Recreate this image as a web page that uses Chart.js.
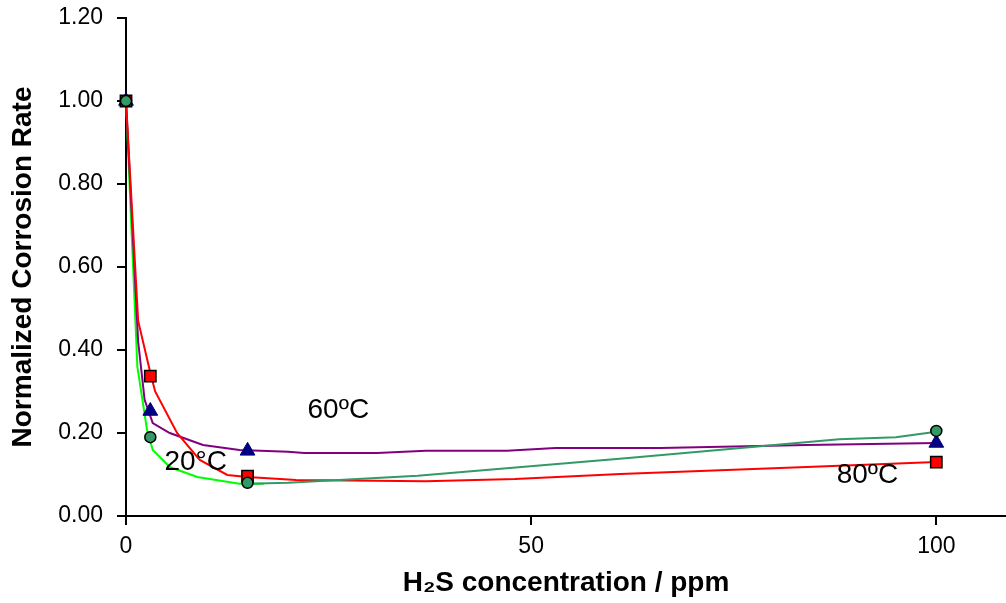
<!DOCTYPE html>
<html>
<head>
<meta charset="utf-8">
<script src="https://cdn.jsdelivr.net/npm/chart.js@4"></script>
<style>
  html, body { margin: 0; padding: 0; background: #fff; }
  canvas { display: block; }
</style>
</head>
<body>
<canvas id="chart" width="1006" height="603"></canvas>
<script>
// measured points (H2S ppm vs normalized rate)
const h2sPpm = [0, 3, 15, 100];
const rate80 = [1.0, 0.337, 0.096, 0.13];
const rate60 = [1.0, 0.253, 0.157, 0.176];
const rate20 = [1.0, 0.19, 0.08, 0.205];

// fitted curves
const fit80X = [0, 1.5, 3.0, 3.6, 6.3, 9.1, 12.5, 15, 21, 37, 48, 61, 84, 100];
const fit80Y = [1.0, 0.47, 0.345, 0.30, 0.20, 0.135, 0.099, 0.094, 0.087, 0.084, 0.089, 0.101, 0.118, 0.13];
const fit60X = [0, 1.5, 2.3, 3.3, 5.4, 9.5, 14, 20, 22, 31, 37, 47, 53, 66, 84, 100];
const fit60Y = [1.0, 0.42, 0.28, 0.224, 0.20, 0.171, 0.159, 0.155, 0.152, 0.152, 0.157, 0.157, 0.164, 0.164, 0.171, 0.176];
const fit20aX = [0, 1.4, 2.6, 3.3, 5.4, 8.8, 14, 17];
const fit20aY = [1.0, 0.36, 0.207, 0.159, 0.118, 0.094, 0.078, 0.078];
const fit20bX = [15, 20, 36, 62, 88, 95, 100];
const fit20bY = [0.078, 0.08, 0.097, 0.14, 0.185, 0.19, 0.203];

const xTicks = [0, 50, 100];

// temperature labels: [text, x, y]
const tempLabels = [
  ['60ºC', 26.2, 0.255],
  ['20°C', 8.6, 0.13],
  ['80ºC', 91.5, 0.099]
];

const FONT = '"Liberation Sans", Arial, sans-serif';

function pts(xs, ys) {
  return xs.map((x, i) => ({x: x, y: ys[i]}));
}

function curve(xs, ys, color, order) {
  return {
    data: pts(xs, ys),
    showLine: true,
    borderColor: color,
    borderWidth: 2,
    pointRadius: 0,
    tension: 0,
    clip: false,
    order: order
  };
}

const tempLabelPlugin = {
  id: 'tempLabels',
  afterDatasetsDraw(chart) {
    const ctx = chart.ctx;
    const xs = chart.scales.x;
    const ys = chart.scales.y;
    ctx.save();
    ctx.fillStyle = '#000';
    ctx.font = '28px ' + FONT;
    ctx.textAlign = 'center';
    ctx.textBaseline = 'middle';
    tempLabels.forEach(l => {
      ctx.fillText(l[0], xs.getPixelForValue(l[1]), ys.getPixelForValue(l[2]));
    });
    ctx.restore();
  }
};

new Chart(document.getElementById('chart'), {
  type: 'scatter',
  data: {
    datasets: [
      curve(fit80X, fit80Y, '#ff0000', 10),
      curve(fit60X, fit60Y, '#800080', 11),
      curve(fit20aX, fit20aY, '#00ff00', 12),
      curve(fit20bX, fit20bY, '#339966', 9),
      {
        data: pts(h2sPpm, rate60),
        pointStyle: 'triangle',
        pointRadius: 8.5,
        backgroundColor: '#000080',
        borderColor: '#000080',
        borderWidth: 1,
        clip: false,
        order: 3
      },
      {
        data: pts(h2sPpm, rate80),
        pointStyle: 'rect',
        pointRadius: 8,
        backgroundColor: '#ff0000',
        borderColor: '#000',
        borderWidth: 1.5,
        clip: false,
        order: 2
      },
      {
        data: pts(h2sPpm, rate20),
        pointStyle: 'circle',
        pointRadius: 5.5,
        backgroundColor: '#339966',
        borderColor: '#000',
        borderWidth: 1.5,
        clip: false,
        order: 1
      }
    ]
  },
  options: {
    responsive: false,
    animation: false,
    devicePixelRatio: 1,
    layout: { autoPadding: false, padding: { top: 18, right: 0, left: 0, bottom: 0 } },
    plugins: {
      legend: { display: false },
      tooltip: { enabled: false }
    },
    scales: {
      x: {
        type: 'linear',
        min: 0,
        max: 108.6,
        afterBuildTicks: scale => { scale.ticks = xTicks.map(v => ({value: v})); },
        afterFit: scale => {
          scale.height = 87;
          scale.paddingLeft = 0;
          scale.paddingRight = 0;
        },
        grid: { display: true, drawOnChartArea: false, drawTicks: true, tickLength: 9, color: '#000', lineWidth: 2 },
        border: { display: true, color: '#000', width: 2 },
        ticks: {
          color: '#000',
          padding: 8,
          maxRotation: 0,
          font: { family: FONT, size: 23 }
        },
        title: {
          display: true,
          text: 'H₂S concentration / ppm',
          color: '#000',
          padding: { top: 0, bottom: 3 },
          font: { family: FONT, size: 28, weight: 'bold' }
        }
      },
      y: {
        min: 0,
        max: 1.2,
        afterFit: scale => {
          scale.width = 126;
          scale.paddingTop = 0;
          scale.paddingBottom = 0;
        },
        grid: { display: true, drawOnChartArea: false, drawTicks: true, tickLength: 9, color: '#000', lineWidth: 2 },
        border: { display: true, color: '#000', width: 2 },
        ticks: {
          stepSize: 0.2,
          color: '#000',
          padding: 14,
          callback: v => v.toFixed(2),
          font: { family: FONT, size: 23 }
        },
        title: {
          display: true,
          text: 'Normalized Corrosion Rate',
          color: '#000',
          padding: { top: 6, bottom: 0 },
          font: { family: FONT, size: 28, weight: 'bold' }
        }
      }
    }
  },
  plugins: [tempLabelPlugin]
});
</script>
</body>
</html>
